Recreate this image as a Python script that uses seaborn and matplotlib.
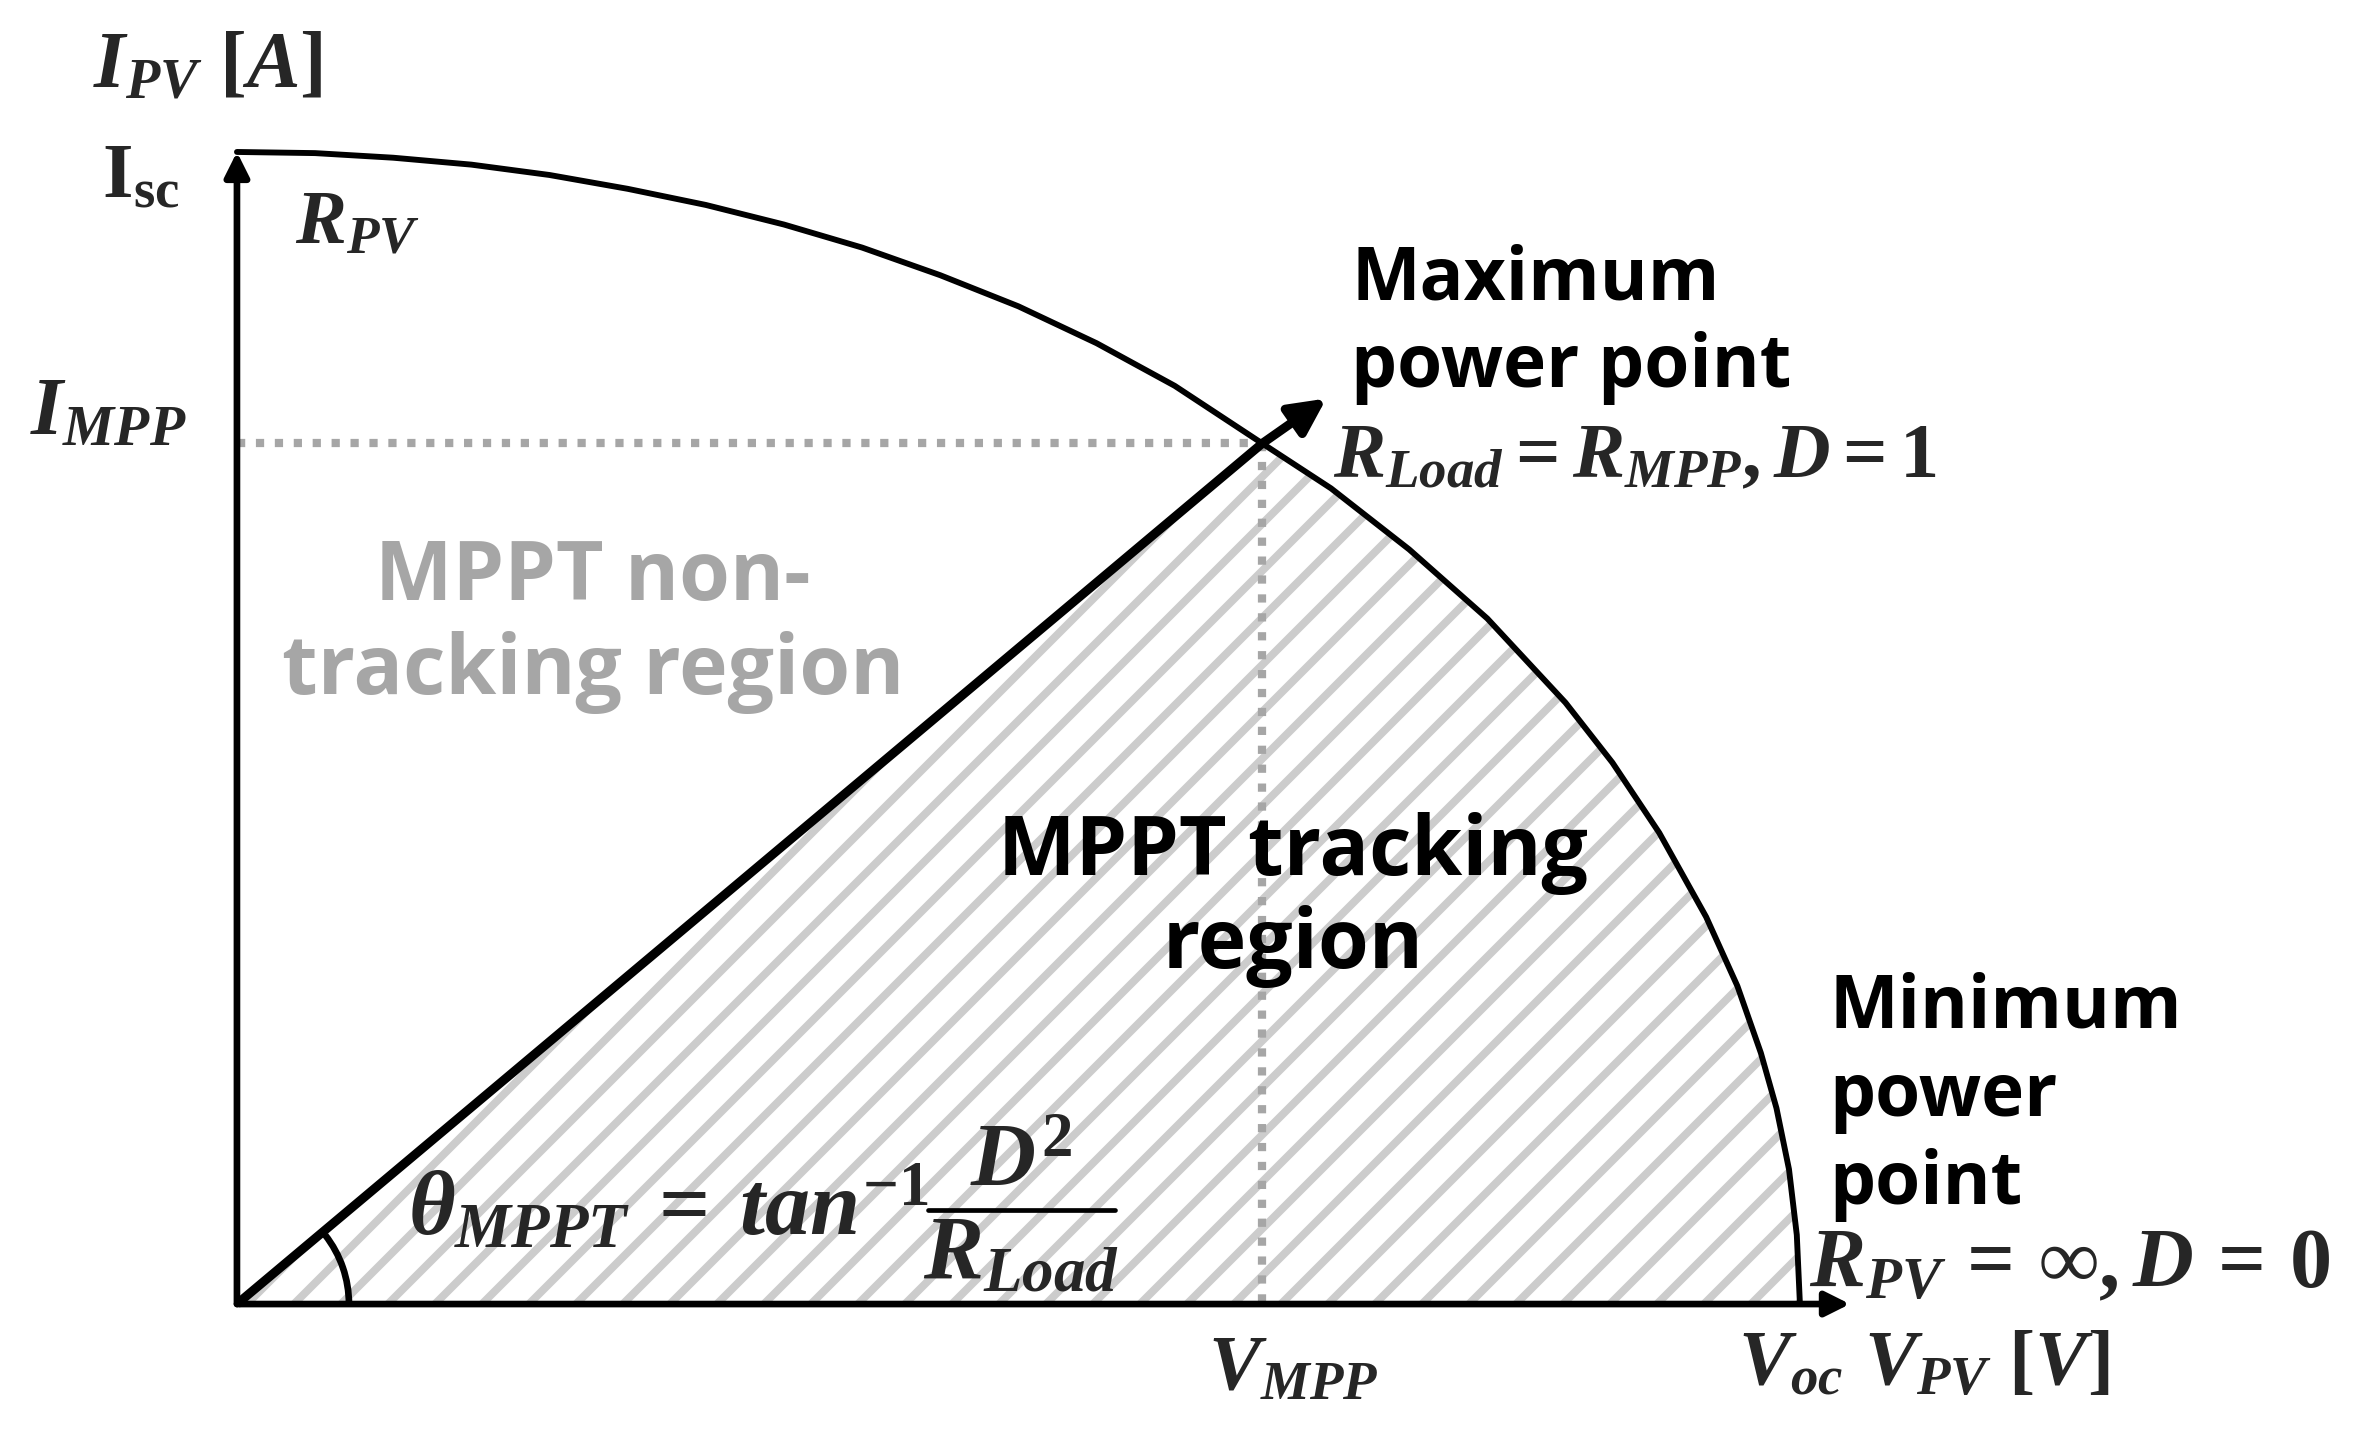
import matplotlib
matplotlib.use('Agg')
import matplotlib.pyplot as plt
import seaborn as sns
import numpy as np
from matplotlib.patches import Arc
from matplotlib.lines import Line2D

# I-V curve of the PV panel, normalised: V / Voc and I / Isc
v_curve = [0.0, 0.05, 0.1, 0.15, 0.2, 0.25, 0.3, 0.35, 0.4, 0.45, 0.5, 0.55, 0.6,
           0.656, 0.7, 0.75, 0.8, 0.85, 0.88, 0.91, 0.94, 0.96, 0.975, 0.985,
           0.993, 0.998, 1.0]
i_curve = [1.0, 0.999, 0.995, 0.989, 0.98, 0.968, 0.954, 0.937, 0.917, 0.893, 0.866, 0.834, 0.797,
           0.747, 0.708, 0.655, 0.595, 0.522, 0.47, 0.409, 0.336, 0.276, 0.218, 0.170,
           0.117, 0.06, 0.0]

# maximum power point and the load-line arrow beyond it
v_mpp = 0.656
i_mpp = 0.747
v_arrow_tip = 0.697
i_arrow_tip = 0.786

# axis arrow ends
v_axis_end = 1.032
i_axis_end = 1.0

W, H, DPI = 2354, 1431, 282

sns.set_theme(style='white')
plt.rcParams['font.family'] = ['Open Sans', 'DejaVu Sans']
plt.rcParams['mathtext.fontset'] = 'custom'
plt.rcParams['mathtext.rm'] = 'Liberation Serif:bold'
plt.rcParams['mathtext.it'] = 'Liberation Serif:italic:bold'
plt.rcParams['mathtext.bf'] = 'Liberation Serif:bold'
plt.rcParams['hatch.linewidth'] = 2.0

fig = plt.figure(figsize=(W / DPI, H / DPI), dpi=DPI)
fig.patch.set_facecolor('white')
ax = fig.add_axes([0, 0, 1, 1])
ax.set_xlim(-0.1516, 1.3545)
ax.set_ylim(-0.1102, 1.1319)
ax.axis('off')

# hatched MPPT tracking region: under the load line up to MPP, then under the curve
k = v_curve.index(v_mpp)
poly_v = [0.0] + v_curve[k:] + [0.0]
poly_i = [0.0] + i_curve[k:] + [0.0]
ax.fill(poly_v, poly_i, facecolor='none', edgecolor='#cccccc', hatch='//', linewidth=0, zorder=1)

# dotted guides to I_MPP and V_MPP
dot = dict(color='#a6a6a6', lw=2.1, linestyle=(0, (1, 1.3)), dash_capstyle='butt', zorder=2)
ax.plot([0, v_mpp], [i_mpp, i_mpp], **dot)
ax.plot([v_mpp, v_mpp], [i_mpp, 0], **dot)

# I-V curve
sns.lineplot(x=v_curve, y=i_curve, ax=ax, color='black', lw=1.5, sort=False,
             estimator=None, zorder=3)

# load line with arrow through the MPP
ax.plot([0, v_mpp], [0, i_mpp], color='black', lw=2.3, solid_capstyle='butt', zorder=4)
ax.annotate('', xy=(v_arrow_tip, i_arrow_tip), xytext=(v_mpp, i_mpp),
            arrowprops=dict(arrowstyle='-|>', color='black', lw=2.3, mutation_scale=19,
                            shrinkA=0, shrinkB=0), zorder=4)

# axes
for end in [(0, i_axis_end), (v_axis_end, 0)]:
    ax.annotate('', xy=end, xytext=(0, 0),
                arrowprops=dict(arrowstyle='-|>', color='black', lw=1.7, mutation_scale=13,
                                shrinkA=0, shrinkB=0), zorder=5)

# angle marker
x0, x1 = ax.get_xlim()
y0, y1 = ax.get_ylim()
r_px = 112
arc_w = 2 * r_px * (x1 - x0) / W
arc_h = 2 * r_px * (y1 - y0) / H
theta = np.degrees(np.arctan2(i_mpp, v_mpp))
ax.add_patch(Arc((0, 0), arc_w, arc_h, theta1=0, theta2=theta - 2, color='black', lw=1.7, zorder=5))


def label(x, y, s, size, **kw):
    fig.text(x / W, 1 - y / H, s, fontsize=size, va='baseline', **kw)


# math labels
label(93, 87, r'$I_{PV}\ [A]$', 20.5)
label(102, 198, r'$\mathrm{I}_{\mathrm{sc}}$', 20)
label(295, 243, r'$R_{PV}$', 19.5)
label(30, 435, r'$I_{MPP}$', 21)
label(1333, 477, r'$R_{Load} = R_{MPP}, D = 1$', 20)
label(1809, 1287, r'$R_{PV}\,=\,\infty,D\,=\,0$', 21.5)
label(1208, 1389, r'$V_{MPP}$', 20)
label(1738, 1384, r'$V_{oc}\ V_{PV}\ [V]$', 20)

# theta formula, fraction set by hand
label(408, 1234, r'$\theta_{MPPT}\:=\:tan^{-1}$', 23)
label(1021, 1186, r'$D^2$', 23, ha='center')
label(1021, 1279, r'$R_{Load}$', 23, ha='center')
fig.add_artist(Line2D([928 / W, 1115 / W], [1 - 1210 / H, 1 - 1210 / H], color='black', lw=1.2))

# word labels
sans = dict(fontweight='bold', color='black')
label(1351, 300, 'Maximum', 18.6, **sans)
label(1351, 387, 'power point', 18.6, **sans)
label(1829, 1028, 'Minimum', 18.6, **sans)
label(1829, 1116, 'power', 18.6, **sans)
label(1829, 1204, 'point', 18.6, **sans)

label(593, 600, 'MPPT non-', 21, ha='center', fontweight='bold', color='#a6a6a6')
label(593, 694, 'tracking region', 21, ha='center', fontweight='bold', color='#a6a6a6')
label(1293, 875, 'MPPT tracking', 21, ha='center', **sans)
label(1293, 968, 'region', 21, ha='center', **sans)

fig.savefig('out.png', dpi=DPI, facecolor='white')
